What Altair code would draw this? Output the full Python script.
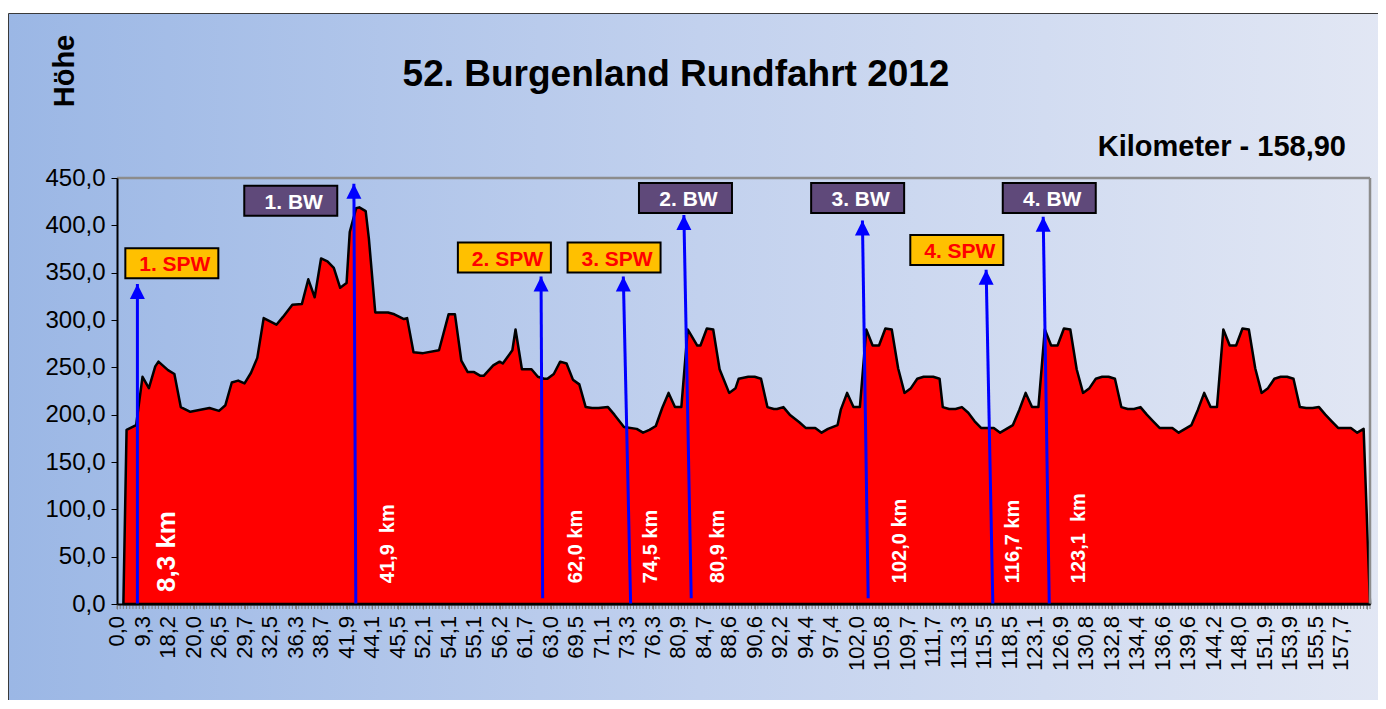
import altair as alt
import pandas as pd

# ---------------- data ----------------
# category labels of the x axis (km), shown at every 8th category
km_labels = ["0,0", "9,3", "18,2", "20,0", "26,5", "29,7", "32,5", "36,3", "38,7", "41,9",
             "44,1", "45,5", "52,1", "54,1", "55,1", "56,2", "61,7", "63,0", "69,5", "71,1",
             "73,3", "76,3", "80,9", "84,7", "88,6", "90,6", "92,2", "94,4", "97,4", "102,0",
             "105,8", "109,7", "111,7", "113,3", "115,5", "118,5", "123,1", "126,9", "130,8",
             "132,8", "134,4", "136,6", "139,6", "144,2", "148,0", "151,9", "153,9", "155,5",
             "157,7"]
n_categories = 393
label_step = 8

# elevation profile: category index -> height (m)
profile_idx = [2, 3, 6, 8, 10, 12, 13, 16, 18, 20, 23, 29, 32, 34, 36, 38, 40, 42, 44, 46,
               50, 52, 55, 58, 60, 62, 64, 66, 68, 70, 72, 73, 75, 76, 78, 79, 81, 85, 87, 90,
               91, 93, 96, 101, 104, 106, 108, 110, 112, 114, 115, 118, 120, 121, 124, 125,
               127, 130, 132, 134, 135, 137, 139, 141, 143, 145, 147, 149, 151, 154, 156, 159,
               163, 165, 167, 169, 171, 173, 175, 177, 179, 182, 183, 185, 187, 189, 192, 194,
               195, 198, 200, 202, 204, 206, 207, 209, 211, 214, 216, 219, 221, 223, 226, 227,
               229, 231, 233, 235, 237, 239, 241, 243, 245, 247, 249, 251, 253, 256, 258, 259,
               261, 263, 265, 267, 269, 271, 275, 277, 279, 281, 283, 285, 287, 289, 291, 293,
               295, 297, 299, 301, 303, 305, 307, 309, 311, 313, 315, 317, 319, 321, 323, 325,
               327, 331, 333, 335, 337, 339, 341, 343, 345, 347, 349, 351, 353, 355, 357, 359,
               361, 363, 365, 367, 369, 371, 373, 375, 377, 379, 381, 383, 387, 389, 391, 393]
profile_elev = [0, 184, 189, 240, 228, 251, 256, 247, 243, 208, 203, 207, 204, 210, 234, 236,
                233, 244, 260, 302, 295, 303, 316, 317, 343, 324, 365, 362, 355, 334, 339, 393,
                418, 419, 415, 386, 308, 308, 306, 301, 302, 266, 265, 268, 306, 306, 257, 245,
                245, 241, 241, 252, 256, 254, 268, 290, 248, 248, 240, 238, 238, 243, 256, 254,
                237, 232, 208, 207, 207, 208, 200, 187, 185, 181, 184, 188, 207, 223, 208, 208,
                290, 273, 273, 291, 290, 248, 223, 228, 238, 240, 240, 238, 208, 206, 206, 208,
                200, 192, 186, 186, 181, 185, 189, 205, 223, 208, 208, 290, 273, 273, 291, 290,
                249, 223, 228, 238, 240, 240, 238, 208, 206, 206, 208, 202, 193, 186, 186, 181,
                185, 189, 205, 223, 208, 208, 290, 273, 273, 291, 290, 248, 223, 228, 238, 240,
                240, 238, 208, 206, 206, 208, 200, 193, 186, 186, 181, 185, 189, 205, 223, 208,
                208, 290, 273, 273, 291, 290, 249, 223, 228, 238, 240, 240, 238, 208, 207, 207,
                208, 200, 193, 186, 186, 181, 185, 0]

# markers (Sprintwertung / Bergwertung)
marker_labels = ["1. SPW", "1. BW", "2. SPW", "3. SPW", "2. BW", "3. BW", "4. SPW", "4. BW"]
marker_kind = ["SPW", "BW", "SPW", "SPW", "BW", "BW", "SPW", "BW"]
arrow_top_idx = [6.4, 74.3, 133.0, 158.8, 177.8, 233.8, 272.6, 290.5]
arrow_top_elev = [338, 444, 346, 346, 411, 405, 353, 409]
arrow_base_idx = [6.4, 74.9, 133.5, 161.1, 180.1, 235.6, 274.7, 292.4]
arrow_base_elev = [0, 0, 6, 0, 6, 6, 0, 0]
box_idx = [17.2, 54.5, 121.5, 155.9, 178.3, 232.3, 263.4, 292.4]
box_elev = [360, 426, 366, 366, 429, 429, 374, 429]

# vertical km annotations (NBSP keeps the double blanks)
km_text = ["8,3 km", "41,9\u00a0 km", "62,0 km", "74,5 km", "80,9 km", "102,0 km",
           "116,7 km", "123,1\u00a0 km"]
km_text_idx = [15.8, 85.0, 144.0, 167.5, 188.5, 245.6, 281.0, 301.7]
km_text_elev = [12.7, 22, 22, 22, 22, 22, 22, 22]
km_text_big = [True, False, False, False, False, False, False, False]

# ---------------- chart ----------------
FONT = "Liberation Sans"
W, H = 1253, 426

prof = pd.DataFrame({"i": profile_idx, "h": profile_elev})
markers = pd.DataFrame({
    "label": marker_labels, "kind": marker_kind,
    "ti": arrow_top_idx, "th": arrow_top_elev,
    "bi": arrow_base_idx, "bh": arrow_base_elev,
    "ci": box_idx, "ch": box_elev,
})
kmdf = pd.DataFrame({"t": km_text, "i": km_text_idx, "h": km_text_elev, "big": km_text_big})
cats = pd.DataFrame({"c": list(range(n_categories + 1))})
xlab = pd.DataFrame({"pos": list(range(0, label_step * len(km_labels), label_step)),
                     "lab": km_labels})
one = pd.DataFrame({"a": [0]})

xscale = alt.Scale(domain=[0, n_categories], nice=False, zero=False)
yscale = alt.Scale(domain=[0, 450], nice=False)

x_axis = alt.Axis(values=list(range(0, n_categories + 1, label_step)), labels=False,
                  tickSize=5, tickColor="#7F7F7F", domainColor="black", domainWidth=2,
                  grid=False, title=None, zindex=1)
y_axis = alt.Axis(values=list(range(0, 451, 50)),
                  labelExpr="replace(format(datum.value, '.1f'), '.', ',')",
                  labelFontSize=24, labelFont=FONT, labelColor="black", tickSize=6,
                  tickColor="black", domainColor="black", domainWidth=2, labelPadding=6,
                  labelOverlap=False, grid=False, title=None, zindex=1)


def X(field):
    return alt.X(field, type="quantitative", scale=xscale, axis=x_axis)


def Y(field):
    return alt.Y(field, type="quantitative", scale=yscale, axis=y_axis)


bg = alt.Chart(one).mark_rect(
    fill=alt.LinearGradient(
        gradient="linear", x1=0, x2=1, y1=0, y2=0,
        stops=[alt.GradientStop(color="#9BB7E5", offset=0),
               alt.GradientStop(color="#C2D1EE", offset=0.5),
               alt.GradientStop(color="#E2E7F4", offset=1)]),
    stroke="#3A3A3A", strokeWidth=1,
).encode(x=alt.value(-108.5), x2=alt.value(W + 20), y=alt.value(-164.5), y2=alt.value(H + 120))

frame_top = alt.Chart(one).mark_rule(color="#8C8C8C", strokeWidth=2.5).encode(
    x=alt.value(0), x2=alt.value(W), y=alt.value(0))
frame_right = alt.Chart(one).mark_rule(color="#8C8C8C", strokeWidth=2.5).encode(
    x=alt.value(W), y=alt.value(0), y2=alt.value(H))

area = alt.Chart(prof).mark_area(
    fill="#FF0000", stroke="black", strokeWidth=2.5, opacity=1, strokeJoin="round"
).encode(x=X("i"), y=Y("h"))

# one small tick per category
cat_ticks = alt.Chart(cats).mark_rule(color="#7F7F7F", strokeWidth=1).encode(
    x=X("c"), y=alt.value(H), y2=alt.value(H + 5))

# x category labels
x_labels = alt.Chart(xlab).mark_text(
    font=FONT, fontSize=22, color="black", angle=270, align="right", baseline="middle"
).encode(x=X("pos"), y=alt.value(H + 12), text="lab:N")

rules = alt.Chart(markers).mark_rule(color="#0000FF", strokeWidth=3).encode(
    x=X("bi"), y=Y("bh"), x2="ti:Q", y2="th:Q")
heads = alt.Chart(markers).mark_point(
    shape="M0,-1L1,1L-1,1Z", filled=True, fill="#0000FF", stroke="#0000FF", strokeWidth=0,
    size=225, opacity=1, yOffset=7.5
).encode(x=X("ti"), y=Y("th"))

box_shape = "M-1,-0.3226L1,-0.3226L1,0.3226L-1,0.3226Z"
spw_box = alt.Chart(markers).transform_filter("datum.kind == 'SPW'").mark_point(
    shape=box_shape, filled=True, fill="#FFC000", stroke="black", strokeWidth=2,
    size=93 * 93, opacity=1
).encode(x=X("ci"), y=Y("ch"))
bw_box = alt.Chart(markers).transform_filter("datum.kind == 'BW'").mark_point(
    shape=box_shape, filled=True, fill="#5F497A", stroke="black", strokeWidth=2,
    size=93 * 93, opacity=1
).encode(x=X("ci"), y=Y("ch"))
spw_txt = alt.Chart(markers).transform_filter("datum.kind == 'SPW'").mark_text(
    font=FONT, fontWeight="bold", fontSize=21, color="#FF0000", dx=3, dy=2
).encode(x=X("ci"), y=Y("ch"), text="label:N")
bw_txt = alt.Chart(markers).transform_filter("datum.kind == 'BW'").mark_text(
    font=FONT, fontWeight="bold", fontSize=21, color="white", dx=3, dy=2
).encode(x=X("ci"), y=Y("ch"), text="label:N")

km_small = alt.Chart(kmdf).transform_filter("!datum.big").mark_text(
    font=FONT, fontWeight="bold", fontSize=20, color="white", angle=270, align="left",
    baseline="middle"
).encode(x=X("i"), y=Y("h"), text="t:N")
km_big = alt.Chart(kmdf).transform_filter("datum.big").mark_text(
    font=FONT, fontWeight="bold", fontSize=26, color="white", angle=270, align="left",
    baseline="middle"
).encode(x=X("i"), y=Y("h"), text="t:N")

title = alt.Chart(one).mark_text(
    text="52. Burgenland Rundfahrt 2012", font=FONT, fontWeight="bold", fontSize=37,
    color="black", align="center", baseline="alphabetic"
).encode(x=alt.value(559), y=alt.value(-92))
subtitle = alt.Chart(one).mark_text(
    text="Kilometer - 158,90", font=FONT, fontWeight="bold", fontSize=29,
    color="black", align="right", baseline="alphabetic"
).encode(x=alt.value(1229), y=alt.value(-22))
ytitle = alt.Chart(one).mark_text(
    text="Höhe", font=FONT, fontWeight="bold", fontSize=29, color="black", angle=270,
    align="center", baseline="middle"
).encode(x=alt.value(-52), y=alt.value(-107))

chart = alt.layer(
    bg, area, cat_ticks, x_labels, frame_top, frame_right, rules, heads, spw_box, bw_box,
    spw_txt, bw_txt, km_small, km_big, title, subtitle, ytitle
).properties(
    width=W, height=H,
    autosize=alt.AutoSizeParams(type="none"),
    padding={"left": 109, "top": 170, "right": 8, "bottom": 96},
).configure_view(stroke=None).configure(background="white")

chart.save("out.html", embed_options={"renderer": "svg", "actions": False})
